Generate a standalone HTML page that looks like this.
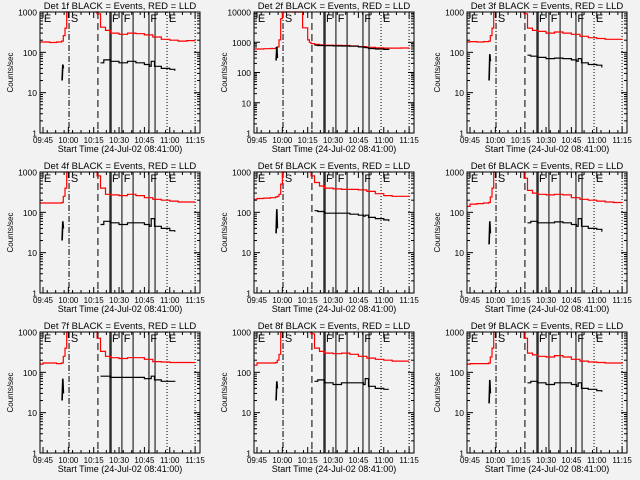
<!DOCTYPE html>
<html><head><meta charset="utf-8">
<style>
html,body{margin:0;padding:0;background:#f2f2f2;}
svg{display:block;font-family:"Liberation Sans",sans-serif;}
</style></head>
<body>
<svg id="chart" width="640" height="480" viewBox="0 0 640 480" xmlns="http://www.w3.org/2000/svg">
<rect x="0" y="0" width="640" height="480" fill="#f2f2f2"/>
</svg>
<script>
const tickLabels = ["09:45","10:00","10:15","10:30","10:45","11:00","11:15"];
const tickTimes = [0,15,30,45,60,75,90];
const redTimes = [-2,0,4,8,11,12,13,14,15,17,20,24,27,30,31,32,34,37,40,45,50,55,60,65,70,75,80,85,90];
const segTimes = [11.3,11.7,12.1];
const blackTimes = [34,36,40,45,50,55,60,63,64,66,70,75,78];
const dashDotTimes = [15.4];
const dashedTimes = [32.5];
const solidTimes = [39.6,40.3,46.7,53.3,62.7,66.3];
const dottedTimes = [73.4,90];
const topLetters = ["E","S","F","F","F","E"];
const topLetterTimes = [0.5,16.5,40.8,47.8,63.5,74.5];
const N = null;
const red1 = [180,180,175,180,190,260,400,1500,3000,N,N,N,N,N,3000,900,420,350,300,280,300,290,270,240,210,200,190,195,200];
const red2 = [600,600,610,620,650,700,1200,6000,10000,11000,11000,11000,3000,1200,1000,900,850,820,800,790,780,750,720,680,650,640,640,645,650];
const red3 = [180,185,180,185,190,260,400,1500,3000,N,N,N,N,N,3000,900,400,350,330,300,320,300,280,250,230,220,210,210,215];
const red4 = [170,170,170,170,175,250,400,1500,3000,N,N,N,N,N,3000,800,400,280,270,260,280,260,230,210,200,190,180,180,180];
const red5 = [210,220,225,230,240,250,280,500,1500,3000,N,N,N,N,3000,800,550,450,400,380,370,370,360,330,290,260,250,250,260];
const red6 = [140,160,165,170,175,240,400,1500,3000,N,N,N,N,N,3000,700,350,300,280,270,280,270,230,210,200,190,180,175,170];
const red7 = [160,170,170,165,170,250,400,1500,3000,N,N,N,N,N,3000,700,330,250,230,220,230,230,210,185,180,175,175,175,180];
const red8 = [150,170,170,170,175,200,280,1000,3000,N,N,N,N,N,3000,900,400,330,300,290,300,280,250,225,210,200,190,190,190];
const red9 = [160,165,165,165,170,240,400,1500,3000,N,N,N,N,N,3000,700,300,270,250,240,260,240,210,190,180,175,170,170,175];
const seg1 = [20,50,40], seg2 = [250,700,300], seg3 = [20,90,60], seg4 = [20,60,40], seg5 = [30,120,40], seg6 = [16,60,30], seg7 = [20,70,30], seg8 = [20,60,40], seg9 = [17,65,30];
const black1 = [55,65,60,55,60,55,50,45,60,45,40,38,35];
const black2 = [800,780,770,760,750,740,700,680,660,620,600,580,560];
const black3 = [85,80,75,70,72,70,65,60,70,55,50,48,42];
const black4 = [50,60,55,50,55,55,50,45,70,45,40,35,33];
const black5 = [110,105,95,95,95,90,85,80,85,75,70,65,60];
const black6 = [55,60,55,55,58,55,50,45,70,45,40,38,33];
const black7 = [80,80,75,75,75,75,70,70,80,65,60,60,58];
const black8 = [60,65,55,50,55,55,55,50,70,45,40,38,38];
const black9 = [55,60,55,50,55,55,50,45,55,40,38,35,33];
const yMaxDecades = [3,4,3,3,3,3,3,3,3];
const reds=[red1,red2,red3,red4,red5,red6,red7,red8,red9];
const segs=[seg1,seg2,seg3,seg4,seg5,seg6,seg7,seg8,seg9];
const blacks=[black1,black2,black3,black4,black5,black6,black7,black8,black9];

const svg=document.getElementById('chart');
const NS='http://www.w3.org/2000/svg';
function mk(tag,attrs,parent){const e=document.createElementNS(NS,tag);for(const k in attrs)e.setAttribute(k,attrs[k]);(parent||svg).appendChild(e);return e;}

for(let p=0;p<9;p++){
  const col=p%3,row=Math.floor(p/3);
  const L=[40,254,467][col], R=L+160, T=12+row*160, B=133+row*160;
  const dec=yMaxDecades[p];
  const g=mk('g',{});
  
  
  const xs=t=>L+3+1.69*t;
  const ys=v=>B-(Math.log10(v)/dec)*(B-T);
  const cy=v=>Math.max(T,Math.min(B,ys(v)));
  const title=mk('text',{x:(L+R)/2,y:T-3,'text-anchor':'middle','font-size':'9.5'},g);
  title.textContent='Det '+(p+1)+'f BLACK = Events, RED = LLD';
  
  
  const yt=mk('text',{x:0,y:0,'text-anchor':'middle','font-size':'8',transform:'translate('+(L-27)+','+((T+B)/2)+') rotate(-90)'},g);
  yt.textContent='Counts/sec';
  
  
  const xt=mk('text',{x:(L+R)/2,y:B+19,'text-anchor':'middle','font-size':'9'},g);
  xt.textContent='Start Time (24-Jul-02 08:41:00)';
  
  
  for(let d=0;d<=dec;d++){
    const v=Math.pow(10,d), y=ys(v);
    const lb=mk('text',{x:L-3,y:y+3.5,'text-anchor':'end','font-size':'8.5'},g);
    lb.textContent=String(v);
    
    
    mk('line',{x1:L,x2:L+6,y1:y,y2:y,stroke:'#000','stroke-width':1},g);
    mk('line',{x1:R,x2:R-6,y1:y,y2:y,stroke:'#000','stroke-width':1},g);
    if(d<dec)for(let m=2;m<10;m++){const ym=ys(v*m);
      mk('line',{x1:L,x2:L+3,y1:ym,y2:ym,stroke:'#000','stroke-width':1},g);
      mk('line',{x1:R,x2:R-3,y1:ym,y2:ym,stroke:'#000','stroke-width':1},g);}
  }
  tickTimes.forEach((t,i)=>{const x=xs(t);
    mk('line',{x1:x,x2:x,y1:B,y2:B-6,stroke:'#000'},g);
    mk('line',{x1:x,x2:x,y1:T,y2:T+6,stroke:'#000'},g);
    const lb=mk('text',{x:x,y:B+10,'text-anchor':'middle','font-size':'8'},g);
    lb.textContent=tickLabels[i];
    
    
  });
  for(let t=-2.5;t<=92;t+=5){const x=xs(t);if(x<=L||x>=R)continue;
    mk('line',{x1:x,x2:x,y1:B,y2:B-3,stroke:'#000'},g);mk('line',{x1:x,x2:x,y1:T,y2:T+3,stroke:'#000'},g);}
  const vl=(t,dash,name)=>{const l=mk('line',{x1:xs(t),x2:xs(t),y1:T,y2:B,stroke:'#000','stroke-width':1,'stroke-dasharray':dash},g);
    };
  dashDotTimes.forEach(t=>vl(t,'6,2,1,2','start-marker-line'));
  dashedTimes.forEach(t=>vl(t,'7,4','dashed-marker-line'));
  solidTimes.forEach(t=>vl(t,'none','flag-marker-line'));
  dottedTimes.forEach(t=>vl(t,'1,2','end-marker-line'));
  topLetters.forEach((c,i)=>{const tx=mk('text',{x:xs(topLetterTimes[i]),y:T+10,'font-size':'11'},g);
    tx.textContent=c;});
  const pathFrom=(ts,vs,step)=>{let d='',on=false;
    for(let i=0;i<ts.length;i++){const v=vs[i];if(v===null){on=false;continue;}
      const x=xs(ts[i]),y=cy(v);
      if(!on){d+='M'+x.toFixed(1)+','+y.toFixed(1);on=true;}
      else{ if(step)d+='H'+x.toFixed(1);d+='L'+x.toFixed(1)+','+y.toFixed(1);}
    }return d;};
  const rp=mk('path',{d:pathFrom(redTimes,reds[p],true),fill:'none',stroke:'#ff0000','stroke-width':1.2},g);
  
  const sp=mk('path',{d:pathFrom(segTimes,segs[p],false),fill:'none',stroke:'#000','stroke-width':1.6},g);
  
  const bp=mk('path',{d:pathFrom(blackTimes,blacks[p],true),fill:'none',stroke:'#000','stroke-width':1.2},g);
  
  const fr=mk('rect',{x:L,y:T,width:R-L,height:B-T,fill:'none',stroke:'#000','stroke-width':1},g);
  
}
</script>
</body></html>
